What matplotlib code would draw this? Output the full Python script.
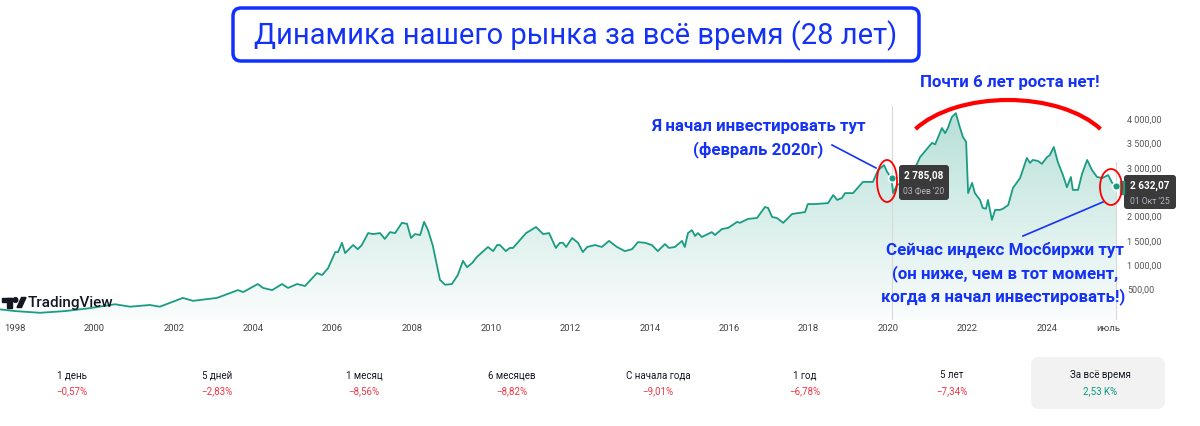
import numpy as np
import matplotlib
matplotlib.use("Agg")
import matplotlib.pyplot as plt
from matplotlib.patches import FancyBboxPatch, Ellipse, Arc, PathPatch, Rectangle, Polygon, Circle
from matplotlib.colors import LinearSegmentedColormap

plt.rcParams['font.family'] = ['Roboto', 'DejaVu Sans']

# Индекс Мосбиржи, значения (год в долях, пункты)
years = [1997.62, 1998.00, 1998.63, 1999.26, 1999.89, 2000.52, 2000.90, 2001.40, 2001.65, 2002.23,
         2002.49, 2003.09, 2003.42, 2003.62, 2003.75, 2004.12, 2004.25, 2004.48, 2004.73, 2004.88,
         2005.11, 2005.31, 2005.61, 2005.74, 2005.89, 2006.07, 2006.14, 2006.24, 2006.32, 2006.52,
         2006.64, 2006.74, 2006.90, 2007.02, 2007.20, 2007.32, 2007.45, 2007.58, 2007.75, 2007.88,
         2007.98, 2008.08, 2008.21, 2008.31, 2008.41, 2008.53, 2008.71, 2008.84, 2009.01, 2009.16,
         2009.29, 2009.39, 2009.52, 2009.64, 2009.92, 2010.05, 2010.15, 2010.22, 2010.37, 2010.47,
         2010.55, 2010.88, 2011.13, 2011.31, 2011.46, 2011.63, 2011.73, 2011.81, 2011.89, 2012.04,
         2012.19, 2012.31, 2012.42, 2012.62, 2012.79, 2012.97, 2013.17, 2013.37, 2013.55, 2013.70,
         2013.88, 2014.05, 2014.20, 2014.38, 2014.48, 2014.63, 2014.81, 2014.88, 2014.96, 2015.06,
         2015.14, 2015.21, 2015.31, 2015.56, 2015.64, 2015.82, 2015.97, 2016.20, 2016.27, 2016.47,
         2016.70, 2016.90, 2016.98, 2017.08, 2017.20, 2017.36, 2017.58, 2017.73, 2017.91, 2017.98,
         2018.16, 2018.49, 2018.62, 2018.72, 2018.84, 2018.92, 2019.12, 2019.37, 2019.62, 2019.75,
         2019.90, 2019.98, 2020.09, 2020.13, 2020.23, 2020.40, 2020.60, 2020.81, 2021.11, 2021.19,
         2021.36, 2021.44, 2021.51, 2021.61, 2021.71, 2021.81, 2021.89, 2021.97, 2022.02, 2022.12,
         2022.19, 2022.32, 2022.39, 2022.47, 2022.52, 2022.62, 2022.70, 2022.82, 2022.90, 2023.03,
         2023.15, 2023.33, 2023.50, 2023.58, 2023.65, 2023.78, 2023.88, 2024.01, 2024.08, 2024.18,
         2024.28, 2024.41, 2024.51, 2024.61, 2024.66, 2024.79, 2024.89, 2025.02, 2025.14, 2025.27,
         2025.40, 2025.55, 2025.65, 2025.75]
values = [95, 60, 25, 60, 120, 200, 150, 185, 150, 330,
          270, 330, 430, 490, 450, 615, 535, 490, 615, 535,
          615, 575, 840, 800, 940, 1270, 1270, 1460, 1250, 1415,
          1330, 1415, 1660, 1640, 1660, 1540, 1680, 1660, 1870, 1850,
          1560, 1640, 1620, 1890, 1720, 1400, 700, 600, 615, 800,
          1090, 960, 1045, 1170, 1375, 1290, 1415, 1415, 1290, 1355,
          1355, 1660, 1785, 1640, 1660, 1355, 1460, 1460, 1375, 1560,
          1460, 1270, 1375, 1415, 1375, 1500, 1375, 1290, 1330, 1475,
          1460, 1415, 1290, 1435, 1355, 1375, 1500, 1375, 1660, 1720,
          1600, 1660, 1580, 1680, 1620, 1745, 1765, 1890, 1870, 1950,
          1970, 2195, 2175, 1990, 1970, 1870, 2050, 2070, 2090, 2255,
          2255, 2275, 2440, 2340, 2380, 2480, 2480, 2710, 2710, 2950,
          3055, 2915, 2785.08, 2480, 2650, 2700, 2850, 3220, 3510, 3480,
          3815, 3710, 3815, 4040, 4120, 3835, 3630, 3530, 2480, 2690,
          2480, 2340, 2175, 2160, 2340, 1930, 2135, 2135, 2160, 2235,
          2585, 2790, 3200, 3100, 3160, 3140, 3080, 3220, 3260, 3425,
          3120, 2850, 2600, 2810, 2545, 2545, 2870, 3160, 2955, 2810,
          2790, 2850, 2690, 2632.07]

mark_dates = [2020.09, 2025.75]
mark_vals = [2785.08, 2632.07]
mark_text = ["2 785,08", "2 632,07"]
mark_days = ["03 Фев '20", "01 Окт '25"]

# метка 2500 в оригинале закрыта подсказкой
y_ticks = [500, 1000, 1500, 2000, 3000, 3500, 4000]
x_ticks = [1998, 2000, 2002, 2004, 2006, 2008, 2010, 2012, 2014, 2016, 2018, 2020, 2022, 2024, 2025.55]
x_labels = ["1998", "2000", "2002", "2004", "2006", "2008", "2010", "2012", "2014", "2016",
            "2018", "2020", "2022", "2024", "июль"]

periods = ["1 день", "5 дней", "1 месяц", "6 месяцев", "С начала года", "1 год", "5 лет", "За всё время"]
changes = ["−0,57%", "−2,83%", "−8,56%", "−8,82%", "−9,01%", "−6,78%", "−7,34%", "2,53 K%"]

teal = "#1a9c82"
blue = "#1432f5"

fig = plt.figure(figsize=(12, 4.26), dpi=100)
W, H = 1200, 426

# основной график
ax = fig.add_axes([0, 1 - 320 / H, 1120 / W, 220 / H])
x0, x1 = 1997.622, 1997.622 + 1120 / 39.68
y0, y1 = -123, 4390
ax.set_xlim(x0, x1)
ax.set_ylim(y0, y1)
for s in ax.spines.values():
    s.set_visible(False)

# градиентная заливка под линией
cmap = LinearSegmentedColormap.from_list("g", [(0.10, 0.61, 0.51, 0.02), (0.10, 0.61, 0.51, 0.33)])
grad = np.linspace(0, 1, 256).reshape(-1, 1)
im = ax.imshow(grad, extent=[x0, x1, y0, y1], origin="lower", aspect="auto", cmap=cmap, zorder=1)
poly = ax.fill_between(years, values, y0, facecolor="none", edgecolor="none")
clip = PathPatch(poly.get_paths()[0], transform=ax.transData, facecolor="none", edgecolor="none")
ax.add_patch(clip)
im.set_clip_path(clip)

ax.plot(years, values, color=teal, lw=1.3, zorder=3)

ax.axvline(mark_dates[0], ymax=0.975, color="#d9d9d9", lw=0.8, zorder=2)
ax.axvline(mark_dates[1], ymax=0.72, color="#d9d9d9", lw=0.8, zorder=2)
ax.scatter(mark_dates, mark_vals, s=32, color=teal, edgecolor="white", linewidth=1.2, zorder=4)

ax.yaxis.tick_right()
ax.set_yticks(y_ticks)
ax.set_yticklabels([f"{v:,.2f}".replace(",", " ").replace(".", ",") for v in y_ticks])
ax.set_xticks(x_ticks)
ax.set_xticklabels(x_labels)
ax.tick_params(axis="y", length=0, pad=5, labelsize=6.5, labelcolor="#555555")
ax.tick_params(axis="x", length=0, pad=3, labelsize=6.8, labelcolor="#444444")

# слой для подписей в пикселях
ov = fig.add_axes([0, 0, 1, 1], zorder=5)
ov.set_xlim(0, W)
ov.set_ylim(H, 0)
ov.axis("off")
ov.patch.set_alpha(0)

# заголовок
ov.add_patch(FancyBboxPatch((233, 8), 686, 53, boxstyle="round,pad=0,rounding_size=8",
                            fc="white", ec="#1030ff", lw=2.5))
ov.text(576, 36, "Динамика нашего рынка за всё время (28 лет)", ha="center", va="center",
        fontsize=21, color=blue)

# логотип
ov.add_patch(Rectangle((2, 297.5), 10, 4, color="#131722"))
ov.add_patch(Rectangle((7, 297.5), 5, 10, color="#131722"))
ov.add_patch(Circle((15.5, 300), 2.3, color="#131722"))
ov.add_patch(Polygon([(17, 307.5), (21.5, 297.5), (26, 297.5), (21.5, 307.5)], color="#131722"))
ov.text(28, 303, "TradingView", ha="left", va="center", fontsize=11, color="#131722", weight="medium")

# всплывающие подсказки
tips = [(899, 165, 50, 35), (1124, 175, 52, 34)]
for (bx, by, bw, bh), t, d in zip(tips, mark_text, mark_days):
    ov.add_patch(FancyBboxPatch((bx, by), bw, bh, boxstyle="round,pad=0,rounding_size=3",
                                fc="#3a3a3a", ec="none"))
    ov.text(bx + bw / 2, by + 11, t, ha="center", va="center", fontsize=7.2, color="white", weight="bold")
    ov.text(bx + bw / 2, by + 26, d, ha="center", va="center", fontsize=6.2, color="#b2b5be")
ov.add_patch(Rectangle((1120, 181), 4, 13, color=teal))

# пометки
ov.add_patch(Ellipse((887, 181), 20, 42, fill=False, ec="red", lw=1.3))
ov.add_patch(Ellipse((1111, 187), 22, 36, fill=False, ec="red", lw=1.3))
ov.add_patch(Arc((1008, 160), 216, 120, theta1=198.5, theta2=341.5, color="red", lw=3))
ov.plot([832, 876], [145, 168], color=blue, lw=1.2)
ov.plot([1023, 1103], [236, 202], color=blue, lw=1.2)

ann = dict(ha="center", va="center", fontsize=12.2, color=blue, weight="bold")
ov.text(1010, 82, "Почти 6 лет роста нет!", **ann)
ov.text(758, 127, "Я начал инвестировать тут", **ann)
ov.text(758, 150, "(февраль 2020г)", **ann)
ov.text(1005, 250, "Сейчас индекс Мосбиржи тут", **ann)
ov.text(1005, 274, "(он ниже, чем в тот момент,", **ann)
ov.text(1003, 297, "когда я начал инвестировать!)", **ann)

# доходность за периоды
ov.add_patch(FancyBboxPatch((1031, 357), 134, 52, boxstyle="round,pad=0,rounding_size=8",
                            fc="#f2f2f2", ec="none"))
px = [72, 217, 364, 512, 658, 805, 952, 1100]
for x, p, c in zip(px, periods, changes):
    ov.text(x, 375, p, ha="center", va="center", fontsize=7, color="#131722")
    col = "#089981" if not c.startswith("−") else "#f23645"
    ov.text(x, 391, c, ha="center", va="center", fontsize=7, color=col)

fig.savefig("out.png", dpi=100)
